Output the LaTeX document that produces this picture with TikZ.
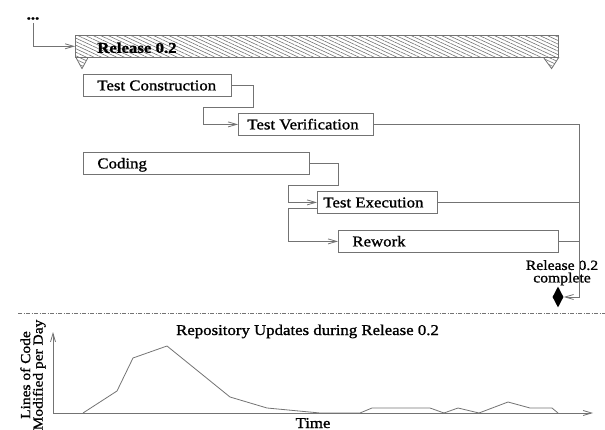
\documentclass[tikz,border=0pt]{standalone}
\usepackage{fontspec}
\setmainfont{Liberation Serif}[FakeStretch=1.12,
  UprightFeatures={FakeBold=1.2}, BoldFeatures={FakeBold=1.2}]
\usetikzlibrary{arrows.meta,calc,patterns.meta,shapes.geometric}

\definecolor{ln}{gray}{0.45}

% fixed-width, left-aligned task caption: width, inset, text
\newcommand{\tasktext}[3]{\makebox[#1][l]{\hspace{#2}#3}}

\tikzset{
  conn/.style={draw=ln, line width=0.8pt},
  >={Straight Barb[length=8.5pt,width=5pt]},
  task/.style={draw=ln, line width=0.8pt, anchor=north west, inner xsep=0pt,
    inner ysep=0pt, minimum height=22pt, text height=10pt, text depth=0pt,
    font=\fontsize{15}{18}\selectfont},
  hatch/.style={pattern={Lines[angle=-25,distance=3.2pt,line width=0.6pt]},
    pattern color=ln},
  txt/.style={inner sep=0pt, font=\fontsize{15}{18}\selectfont},
}

\begin{document}
\begin{tikzpicture}[x=1pt,y=-1pt]
\useasboundingbox (0,0) rectangle (605,430);

% ---- release summary bar ----
\node[txt, anchor=base, inner ysep=3pt] (dots) at (33,19.5) {\textbf{...}};
\node[task, hatch, minimum height=22pt] (rel) at (75,35)
  {\tasktext{483pt}{22pt}{\bfseries\raisebox{-1.5pt}{Release 0.2}}};
\filldraw[hatch, draw=ln, line width=0.8pt]
  ($(rel.south west)+(1,0)$) -- ++(6,11) -- ++(6,-11) -- cycle;
\filldraw[hatch, draw=ln, line width=0.8pt]
  ($(rel.south east)+(-15,0)$) -- ++(8,11) -- ++(7,-11) -- cycle;
\draw[conn,->] (dots.south) |- (rel.west);

% ---- tasks ----
\node[task] (tc) at (83,74)  {\tasktext{148pt}{14pt}{Test Construction}};
\node[task] (tv) at (238,113) {\tasktext{135pt}{9pt}{Test Verification}};
\node[task] (cd) at (83,152) {\tasktext{226pt}{14pt}{Coding}};
\node[task] (te) at (317,191) {\tasktext{120pt}{6pt}{Test Execution}};
\node[task] (rw) at (338,230) {\tasktext{220pt}{14pt}{Rework}};

% ---- milestone ----
\node[diamond, fill=black, inner sep=0pt, aspect=0.5,
  minimum width=11pt, minimum height=21pt] (ms) at (558,297) {};
\node[inner sep=0pt, anchor=north, align=center,
  font=\fontsize{14}{12.5}\selectfont] (mslbl) at (562,260)
  {Release 0.2\\complete};
\coordinate (j) at (579,297);

% ---- dependencies ----
\draw[conn,->] (tc.east) -| (253,107) -| ($(tv.west)+(-35,0)$) -- (tv.west);
\draw[conn,->] (cd.east) -| (338,185) -| ($(te.west)+(-29,0)$) -- (te.west);
\draw[conn,->] ($(te.west)+(0,6)$) -- ++(-29,0) |- (rw.west);
\draw[conn,->] (tv.east) -| (j) -- (ms.east);
\draw[conn] (te.east) -- (te.east -| j);
\draw[conn] (rw.east) -- (rw.east -| j);

% ---- separator ----
\coordinate (sepL) at (18,313);
\coordinate (sepR) at (605,313);
\draw[draw=ln, line width=0.7pt,
  dash pattern=on 4pt off 1.5pt on 1pt off 1.5pt] (sepL) -- (sepR);

% ---- repository update chart ----
\coordinate (o) at (53,413);
\coordinate (ytip) at (53,332);
\coordinate (xtip) at (593,413);
\draw[conn,->] (o) -- (ytip);
\draw[conn,->] (o) -- (xtip);
\draw[conn, line join=round]
  (83,413) -- (117,391) -- (133,358) -- (167,346) -- (230,397) -- (267,408)
  -- (320,413) -- (360,413) -- (372,408) -- (430,408) -- (444,413)
  -- (458,408) -- (479,413) -- (508,402) -- (530,408) -- (552,408)
  -- (558,413);

\node[txt, anchor=base] (title) at (307.5,335)
  {Repository Updates during Release 0.2};
\node[inner sep=0pt, rotate=90, align=center,
  font=\fontsize{13.8}{12.5}\selectfont] (ylab) at (33,375)
  {Lines of Code\\Modified per Day};
\node[txt, anchor=base] (xlab) at (313,428) {Time};
\end{tikzpicture}
\end{document}
